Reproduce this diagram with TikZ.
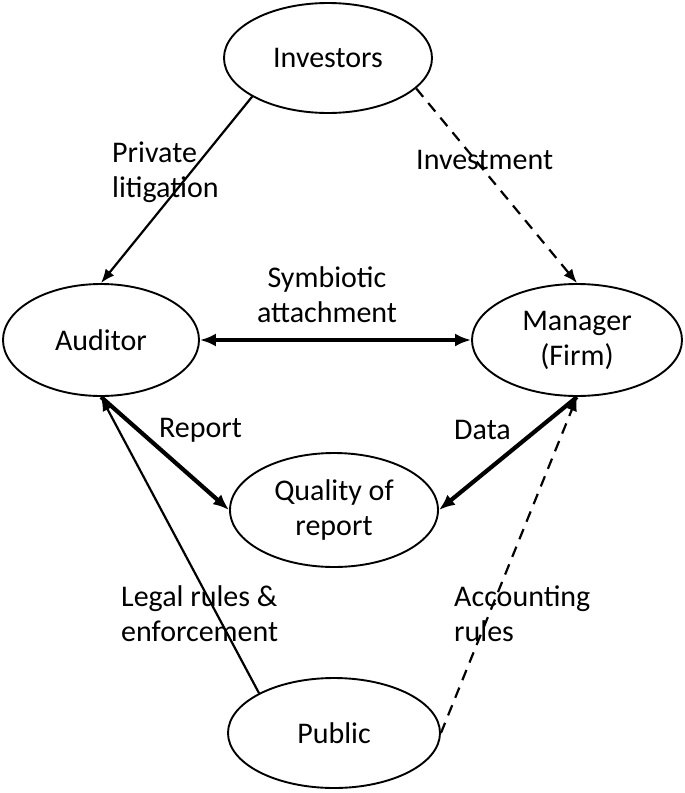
\documentclass[tikz,border=0pt]{standalone}
\usepackage{fontspec}
\setmainfont{Carlito}
\usetikzlibrary{arrows.meta,shapes.geometric}
\begin{document}
\begin{tikzpicture}[x=1pt,y=-1pt,
  every node/.style={font=\fontsize{30}{35}\selectfont},
  ent/.style={ellipse,draw,line width=1.9pt,inner sep=0pt,align=center},
  lbl/.style={anchor=west,align=left,inner sep=0pt},
  thin/.style={line width=2.2pt,-{Latex[length=14pt,width=11pt]}},
  thick/.style={line width=4.2pt,-{Latex[length=16pt,width=13pt]}},
  dsh/.style={line width=2.2pt,dash pattern=on 11pt off 8pt,-{Latex[length=14pt,width=11pt]}}]
\useasboundingbox (0,0) rectangle (685,793);
\node[ent,minimum width=208pt,minimum height=110pt] (inv) at (328,58) {Investors};
\node[ent,minimum width=196pt,minimum height=112pt] (aud) at (101,340) {Auditor};
\node[ent,minimum width=210pt,minimum height=112pt] (man) at (577,340) {Manager\\(Firm)};
\node[ent,minimum width=208pt,minimum height=114pt] (qual) at (334,510) {Quality of\\report};
\node[ent,minimum width=212pt,minimum height=110pt] (pub) at (334,733) {Public};

\draw[thin] (inv.207.5) -- (aud.north);
\draw[dsh] (inv.-19.6) -- (man.north);
\draw[thick,{Latex[length=16pt,width=13pt]}-{Latex[length=16pt,width=13pt]}] (aud.east) -- (man.west);
\draw[thick] (aud.south) -- (qual.west);
\draw[thick] (man.south) -- (qual.east);
\draw[thin] (pub.152.2) -- (aud.south);
\draw[dsh] (pub.east) -- (man.south);

\node[lbl] (l1) at (112,172) {Private\\litigation};
\node[lbl] (l2) at (416,160) {Investment};
\node[align=center,inner sep=0pt] (l3) at (327,295) {Symbiotic\\attachment};
\node[lbl] (l4) at (159,430) {Report};
\node[lbl] (l5) at (454,430) {Data};
\node[lbl] (l6) at (121,614) {Legal rules \&\\enforcement};
\node[lbl] (l7) at (454,614) {Accounting\\rules};
\end{tikzpicture}
\end{document}
